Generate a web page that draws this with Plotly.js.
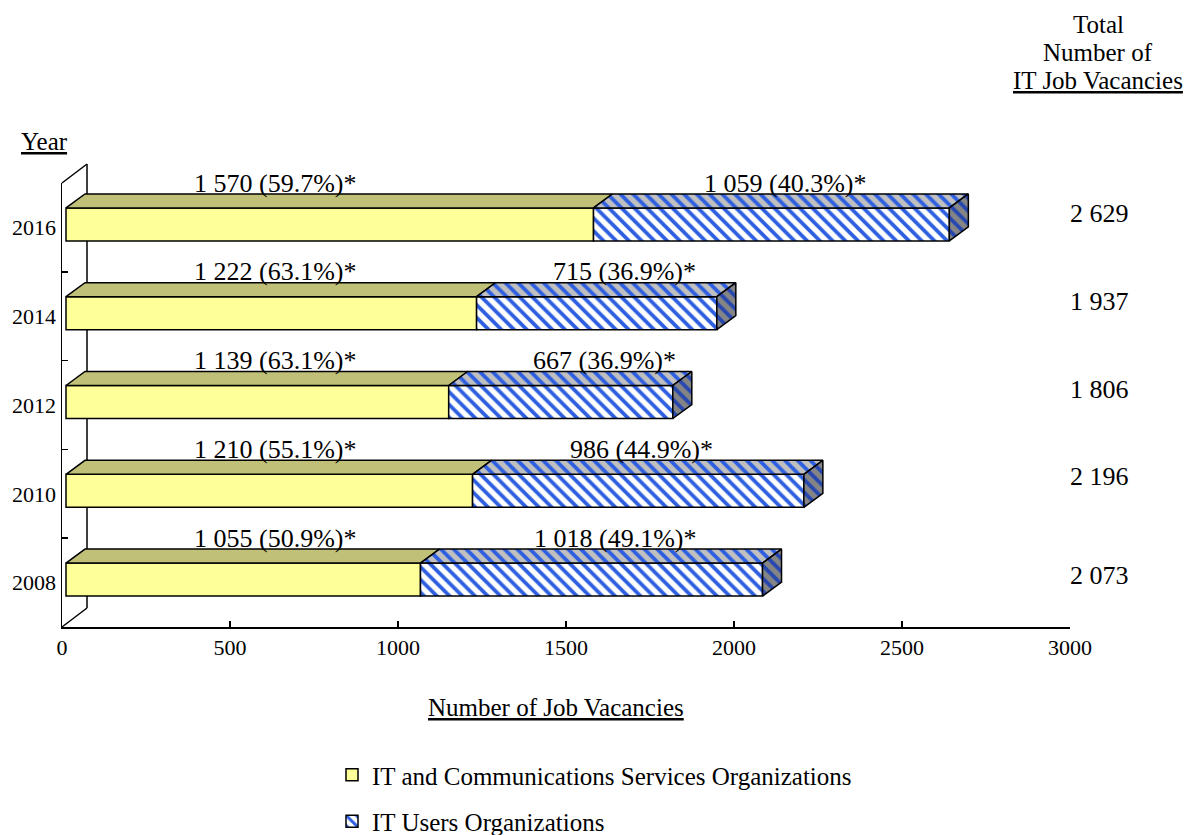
<!DOCTYPE html>
<html>
<head>
<meta charset="utf-8">
<script src="https://cdn.plot.ly/plotly-3.0.1.min.js"></script>
<style>html,body{margin:0;padding:0;background:#fff;}#chart{width:1201px;height:835px;}</style>
</head>
<body>
<div id="chart"></div>
<script>
// ---------------- data ----------------
const years = ['2008', '2010', '2012', '2014', '2016'];
const itServices = [1055, 1210, 1139, 1222, 1570];
const itUsers = [1018, 986, 667, 715, 1059];
const servicesPct = ['50.9', '55.1', '63.1', '63.1', '59.7'];
const usersPct = ['49.1', '44.9', '36.9', '36.9', '40.3'];
const totals = [2073, 2196, 1806, 1937, 2629];
const seriesNames = ['IT and Communications Services Organizations', 'IT Users Organizations'];
const xTicks = [0, 500, 1000, 1500, 2000, 2500, 3000];

// ---------------- layout geometry (pixels) ----------------
const W = 1201, H = 835;
const PL = 62, PR = 1070, PT = 183, PB = 627;
const X_MAX = 3000;
const pxX = (PR - PL) / X_MAX;
const pxY = (PB - PT) / years.length;
const FRONT_DX = 4, FRONT_DY = 3;     // bar front face offset from the front plane
const DEPTH_DX = 19, DEPTH_DY = 14;   // bar depth
const BAR_PX = 33;                    // bar thickness
const WALL_DX = 25, WALL_DY = 19;     // wall depth
// label positions (value units) for the user-organisation labels
const usersLabelX = [1646, 1726, 1615, 1673, 2152];
const servicesLabelX = 634;
// vertical nudge (category units) of the total labels
const totalsLabelDY = [0.08, 0.2, 0.18, 0.17, 0.16];

const sx = FRONT_DX / pxX, syF = FRONT_DY / pxY;
const bw = BAR_PX / pxY;
const ddx = DEPTH_DX / pxX, ddy = DEPTH_DY / pxY;
const idx = years.map((_, i) => i);

const fmt = n => String(n).replace(/\B(?=(\d{3})+(?!\d))/g, ' ');
const FONT = 'Liberation Serif, Times New Roman, serif';

const YELLOW = '#FFFF99', YELLOW_TOP = '#C0C078';
const BLUE = '#2E5FE0', BLUE_DARK = '#2747B0';
const GRAY_TOP = '#C0C0C0', GRAY_SIDE = '#858585';

// front faces (bars)
const traceServices = {
  type: 'bar', orientation: 'h', name: seriesNames[0],
  y: idx, x: itServices, base: idx.map(() => sx),
  width: bw, offset: -bw / 2 + syF,
  marker: {color: YELLOW, line: {color: '#000', width: 1.5}},
  legendgroup: 'a', hoverinfo: 'skip'
};
const traceUsers = {
  type: 'bar', orientation: 'h', name: seriesNames[1],
  y: idx, x: itUsers, base: itServices.map(v => v + sx),
  width: bw, offset: -bw / 2 + syF,
  marker: {color: '#FFFFFF', line: {color: '#000', width: 1.5},
    pattern: {shape: '\\', fgcolor: BLUE, bgcolor: '#FFFFFF', size: 9, solidity: 0.42}},
  legendgroup: 'b', hoverinfo: 'skip'
};

// top faces and side faces built from the same data
function topFaces(starts, lens) {
  const xs = [], ys = [];
  idx.forEach(i => {
    const a = starts[i] + sx, b = starts[i] + lens[i] + sx;
    const yt = i + bw / 2 + syF;
    xs.push(a, b, b + ddx, a + ddx, a, null);
    ys.push(yt, yt, yt + ddy, yt + ddy, yt, null);
  });
  return {xs, ys};
}
function sideFaces(ends) {
  const xs = [], ys = [];
  idx.forEach(i => {
    const e = ends[i] + sx;
    const yb = i - bw / 2 + syF, yt = i + bw / 2 + syF;
    xs.push(e, e + ddx, e + ddx, e, e, null);
    ys.push(yb, yb + ddy, yt + ddy, yt, yb, null);
  });
  return {xs, ys};
}
const tY = topFaces(idx.map(() => 0), itServices);
const tB = topFaces(itServices, itUsers);
const sB = sideFaces(itServices.map((v, i) => v + itUsers[i]));

const faceYellow = {type: 'scatter', mode: 'lines', x: tY.xs, y: tY.ys, fill: 'toself',
  fillcolor: YELLOW_TOP, line: {color: '#000', width: 1.5}, showlegend: false, hoverinfo: 'skip'};
const faceBlueTop = {type: 'scatter', mode: 'lines', x: tB.xs, y: tB.ys, fill: 'toself',
  fillcolor: GRAY_TOP, fillpattern: {shape: '\\', fgcolor: BLUE, bgcolor: GRAY_TOP, size: 9, solidity: 0.42},
  line: {color: '#000', width: 1.5}, showlegend: false, hoverinfo: 'skip'};
const faceBlueSide = {type: 'scatter', mode: 'lines', x: sB.xs, y: sB.ys, fill: 'toself',
  fillcolor: GRAY_SIDE, fillpattern: {shape: '\\', fgcolor: BLUE_DARK, bgcolor: GRAY_SIDE, size: 9, solidity: 0.42},
  line: {color: '#000', width: 1.5}, showlegend: false, hoverinfo: 'skip'};

// annotations
const annotations = [];
idx.forEach(i => {
  annotations.push({xref: 'x', yref: 'y', x: servicesLabelX, y: i + 0.5, xanchor: 'center', yanchor: 'middle',
    text: fmt(itServices[i]) + ' (' + servicesPct[i] + '%)*', showarrow: false,
    font: {family: FONT, size: 26, color: '#000'}});
  annotations.push({xref: 'x', yref: 'y', x: usersLabelX[i], y: i + 0.5, xanchor: 'center', yanchor: 'middle',
    text: fmt(itUsers[i]) + ' (' + usersPct[i] + '%)*', showarrow: false,
    font: {family: FONT, size: 26, color: '#000'}});
  annotations.push({xref: 'paper', yref: 'y', x: (1099 - PL) / (PR - PL), y: i + totalsLabelDY[i], xanchor: 'center', yanchor: 'middle',
    text: fmt(totals[i]), showarrow: false, font: {family: FONT, size: 26, color: '#000'}});
});
const px2paperX = p => (p - PL) / (PR - PL);
const px2paperY = p => (PB - p) / (PB - PT);
[['Total', 24], ['Number of', 52], ['<u>IT Job Vacancies</u>', 81]].forEach(([t, py]) => {
  annotations.push({xref: 'paper', yref: 'paper', x: px2paperX(1098), y: px2paperY(py), xanchor: 'center', yanchor: 'middle',
    text: t, showarrow: false, font: {family: FONT, size: 25, color: '#000'}});
});
annotations.push({xref: 'paper', yref: 'paper', x: px2paperX(44), y: px2paperY(141), xanchor: 'center', yanchor: 'middle',
  text: '<u>Year</u>', showarrow: false, font: {family: FONT, size: 25, color: '#000'}});
annotations.push({xref: 'paper', yref: 'paper', x: px2paperX(556), y: px2paperY(707), xanchor: 'center', yanchor: 'middle',
  text: '<u>Number of Job Vacancies</u>', showarrow: false, font: {family: FONT, size: 25, color: '#000'}});

// wall (back edge of the left wall)
const wallLine = {color: '#000', width: 1.5};
const shapes = [
  {type: 'line', xref: 'paper', yref: 'paper', layer: 'below', line: wallLine,
    x0: 0, y0: 1, x1: px2paperX(PL + WALL_DX), y1: px2paperY(PT - WALL_DY)},
  {type: 'line', xref: 'paper', yref: 'paper', layer: 'below', line: wallLine,
    x0: px2paperX(PL + WALL_DX), y0: px2paperY(PT - WALL_DY), x1: px2paperX(PL + WALL_DX), y1: px2paperY(PB - WALL_DY)},
  {type: 'line', xref: 'paper', yref: 'paper', layer: 'below', line: wallLine,
    x0: 0, y0: 0, x1: px2paperX(PL + WALL_DX), y1: px2paperY(PB - WALL_DY)}
];

const layout = {
  width: W, height: H,
  margin: {l: PL, r: W - PR, t: PT, b: H - PB, autoexpand: false},
  paper_bgcolor: '#fff', plot_bgcolor: 'rgba(0,0,0,0)',
  barmode: 'overlay',
  font: {family: FONT, color: '#000'},
  xaxis: {range: [0, X_MAX], tickvals: xTicks, ticktext: xTicks.map(String),
    ticks: 'inside', ticklen: 6, tickwidth: 1.5, tickcolor: '#000',
    showline: true, linecolor: '#000', linewidth: 1.5, showgrid: false, zeroline: false,
    tickfont: {family: FONT, size: 22, color: '#000'}, fixedrange: true},
  yaxis: {range: [-0.5, years.length - 0.5], tickvals: idx, ticktext: years, ticks: '',
    showline: true, linecolor: '#000', linewidth: 1.5, showgrid: false, zeroline: false,
    ticklabelstandoff: 0,
    minor: {tickvals: idx.slice(1).map(i => i - 0.5), ticks: 'inside', ticklen: 6, tickwidth: 1.5, tickcolor: '#000', showgrid: false},
    tickfont: {family: FONT, size: 22, color: '#000'}, fixedrange: true},
  showlegend: true,
  legend: {x: px2paperX(332), xanchor: 'left', y: px2paperY(752), yanchor: 'top',
    orientation: 'v', traceorder: 'grouped', tracegroupgap: 11,
    font: {family: FONT, size: 25, color: '#000'}, bgcolor: 'rgba(0,0,0,0)'},
  annotations, shapes
};

Plotly.newPlot('chart', [traceServices, traceUsers, faceYellow, faceBlueTop, faceBlueSide], layout,
  {staticPlot: true, displayModeBar: false});
</script>
</body>
</html>
